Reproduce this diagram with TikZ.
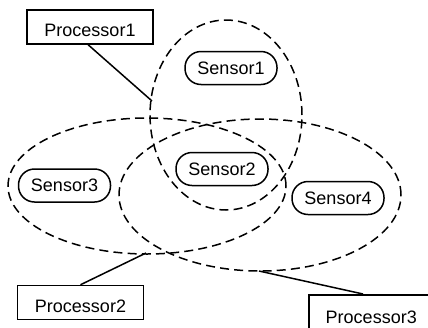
\documentclass[tikz,border=0pt]{standalone}
\usepackage{fontspec}
\setmainfont{Liberation Sans}
\usetikzlibrary{positioning}
\tikzstyle{proc} = [draw, line width=0.75pt, minimum width=63pt, minimum height=17pt, text height=9.5pt, text depth=0pt, inner sep=1pt]
\tikzstyle{sensor} = [draw, line width=0.75pt, rounded corners=8pt, minimum width=46pt, minimum height=16.5pt, inner sep=1pt]
\tikzstyle{zone} = [line width=0.75pt, dash pattern=on 4.5pt off 2.6pt]
\tikzstyle{link} = [line width=0.75pt]

\begin{document}
\begin{tikzpicture}[x=0.5pt, y=-0.5pt, font=\fontsize{9}{11}\selectfont]
    \useasboundingbox (0,0) rectangle (428,327);
    % sensing zones
    \draw[zone] (226,115) ellipse [x radius=38pt, y radius=47.5pt];
    \draw[zone] (147,186) ellipse [x radius=69.5pt, y radius=34pt];
    \draw[zone] (260,195) ellipse [x radius=70.5pt, y radius=38pt];
    \coordinate (z1) at (152,101);
    \coordinate (z2) at (146,253);
    \coordinate (z3) at (259,271);
    % sensors
    \node[sensor] (s1) at (231,68) {Sensor1};
    \node[sensor] (s2) at (222,169) {Sensor2};
    \node[sensor] (s3) at (64.5,185.5) {Sensor3};
    \node[sensor] (s4) at (338,198) {Sensor4};
    % processors
    \node[proc] (p1) at (90,27) {Processor1};
    \node[proc] (p2) at (80.5,302.5) {Processor2};
    \node[proc, anchor=north west, minimum width=62.5pt, minimum height=19.5pt] (p3) at (308,294) {Processor3};
    \draw[link] (p1.264) -- (z1);
    \draw[link] (p2.north) -- (z2);
    \draw[link] (p3.112) -- (z3);
  \end{tikzpicture}
\end{document}
